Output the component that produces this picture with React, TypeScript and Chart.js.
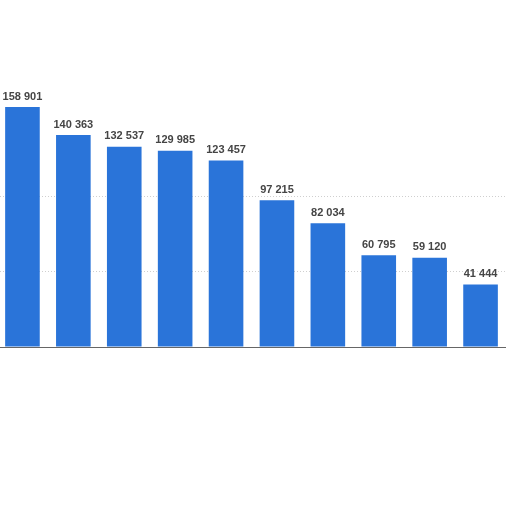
import React, { useEffect, useRef } from 'react';
import { Chart, registerables } from 'chart.js';

Chart.register(...registerables);

const categories = ['1', '2', '3', '4', '5', '6', '7', '8', '9', '10'];
const values = [158901, 140363, 132537, 129985, 123457, 97215, 82034, 60795, 59120, 41444];
const visibleGrid = [50000, 100000];

const fmt = (v: number) => String(v).replace(/\B(?=(\d{3})+(?!\d))/g, ' ');

// draws the value above each bar
const valueLabels = {
  id: 'valueLabels',
  afterDatasetsDraw(chart: Chart) {
    const ctx = chart.ctx;
    const meta = chart.getDatasetMeta(0);
    ctx.save();
    ctx.font = 'bold 11px "Liberation Sans", Arial, sans-serif';
    ctx.fillStyle = '#454545';
    ctx.textAlign = 'center';
    ctx.textBaseline = 'bottom';
    meta.data.forEach((bar: any, i: number) => {
      ctx.fillText(fmt(values[i]), bar.x, bar.y - 5);
    });
    ctx.restore();
  },
};

export default function App() {
  const canvasRef = useRef<HTMLCanvasElement>(null);

  useEffect(() => {
    document.body.style.margin = '0';
    if (!canvasRef.current) return;
    const chart = new Chart(canvasRef.current, {
      type: 'bar',
      data: {
        labels: categories,
        datasets: [
          {
            data: values,
            backgroundColor: '#2a74d9',
            barPercentage: 0.68,
            categoryPercentage: 1,
          },
        ],
      },
      options: {
        responsive: true,
        maintainAspectRatio: false,
        animation: false,
        layout: { padding: { top: 45, bottom: 165, left: 0, right: 0 } },
        plugins: { legend: { display: false }, tooltip: { enabled: false } },
        scales: {
          x: {
            ticks: { display: false },
            grid: { display: false, drawTicks: false },
            border: { display: true, color: '#666', width: 1 },
          },
          y: {
            min: 0,
            max: 200000,
            ticks: { display: false, stepSize: 50000 },
            grid: {
              color: (c: any) => (visibleGrid.includes(c.tick?.value) ? '#cfcfcf' : 'rgba(0,0,0,0)'),
              drawTicks: false,
              tickLength: 0,
            },
            border: { display: false, dash: [1, 2] },
          },
        },
      },
      plugins: [valueLabels],
    });
    return () => chart.destroy();
  }, []);

  return (
    <div style={{ position: 'fixed', left: -3, top: 0, width: 509, height: 512, background: '#fff' }}>
      <canvas ref={canvasRef} />
    </div>
  );
}
